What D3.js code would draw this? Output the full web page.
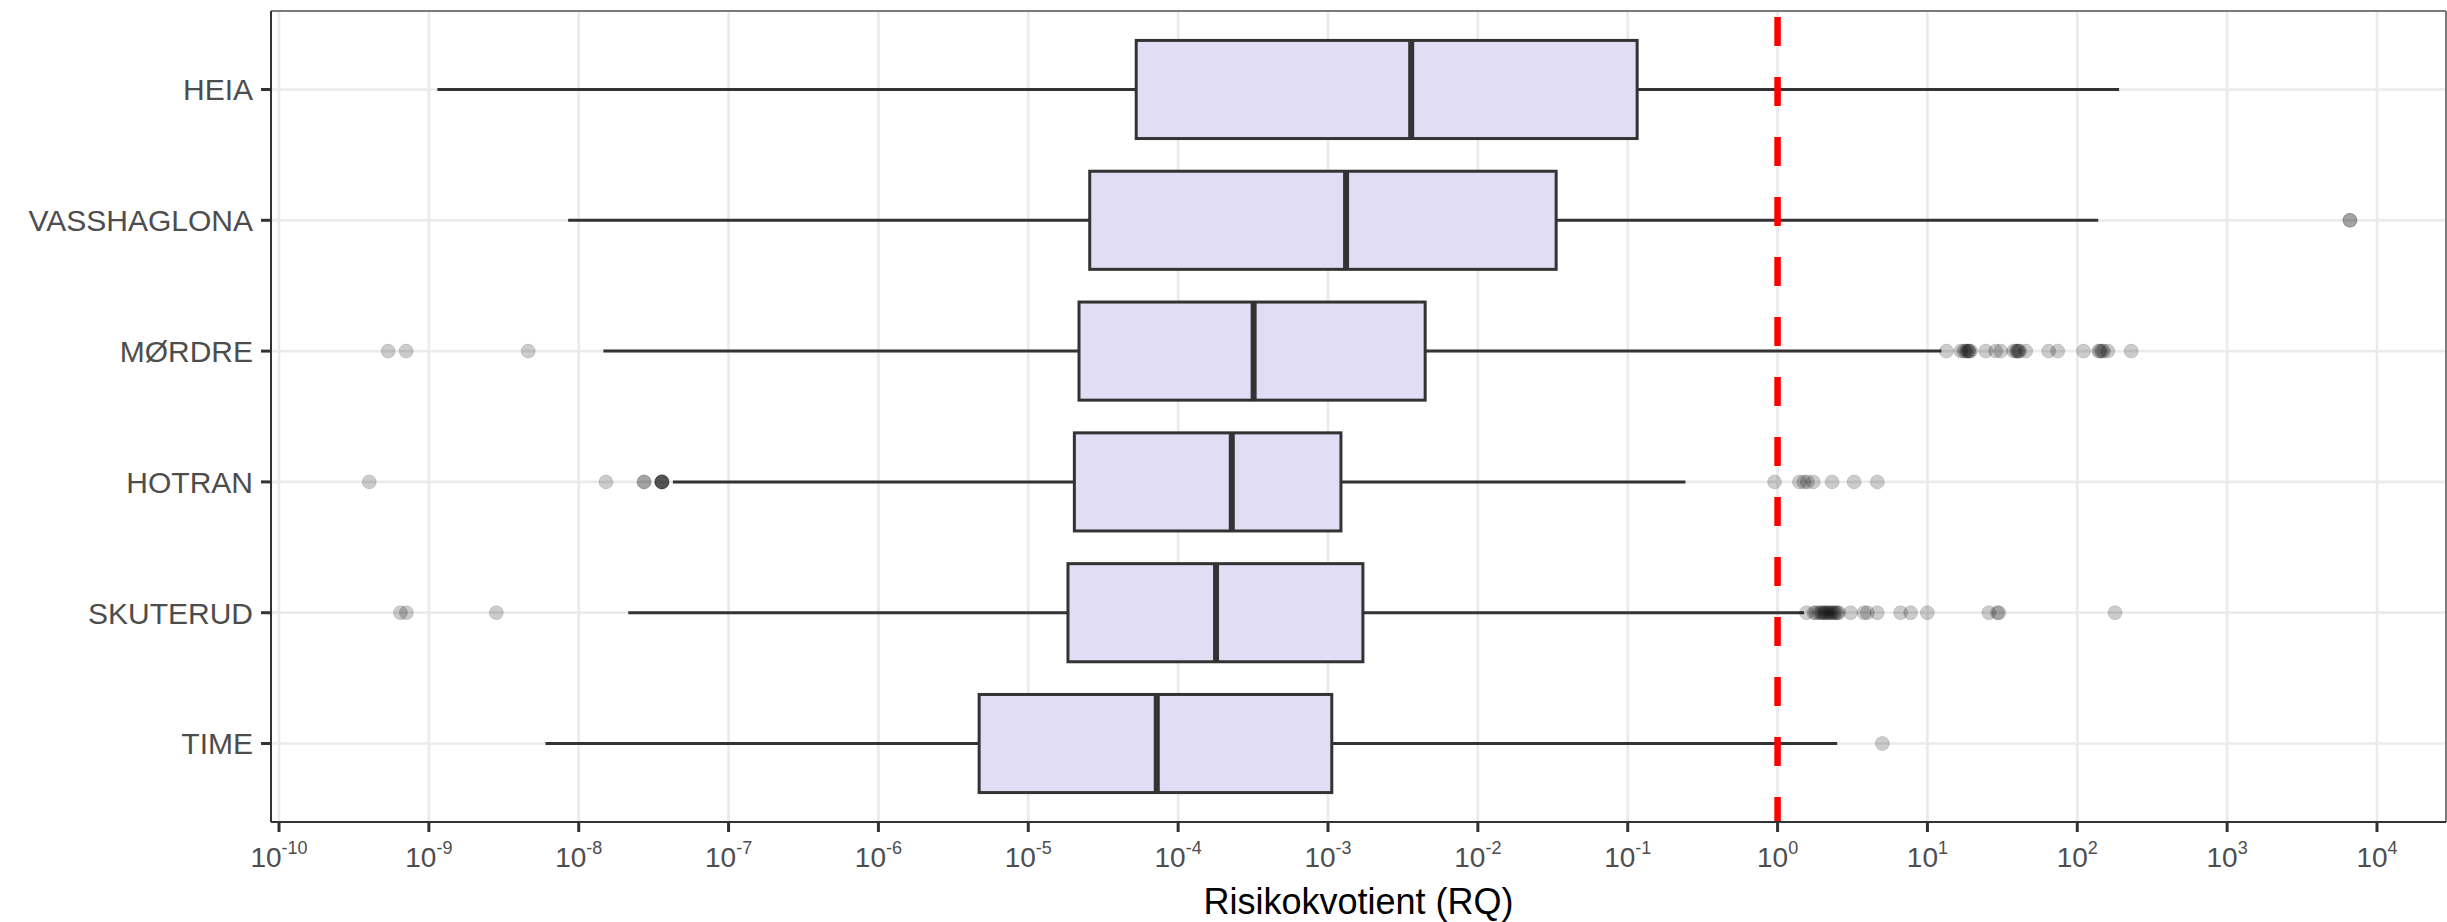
<!DOCTYPE html>
<html>
<head>
<meta charset="utf-8">
<script src="https://cdn.jsdelivr.net/npm/d3@7"></script>
<style>
  html, body { margin: 0; padding: 0; background: #fff; }
  svg { display: block; }
  text { font-family: "Liberation Sans", Arial, Helvetica, sans-serif; }
</style>
</head>
<body>
<svg id="chart" width="2447" height="922"></svg>
<script>
// ---------------- data ----------------
const categories = ["HEIA", "VASSHAGLONA", "MØRDRE", "HOTRAN", "SKUTERUD", "TIME"];
const whiskerLow  = [1.14e-9, 8.5e-9, 1.46e-8, 4.25e-8, 2.14e-8, 6.0e-9];
const q1Values    = [5.25e-5, 2.57e-5, 2.18e-5, 2.03e-5, 1.84e-5, 4.7e-6];
const medians     = [3.59e-3, 1.32e-3, 3.19e-4, 2.28e-4, 1.79e-4, 7.2e-5];
const q3Values    = [0.1156, 0.0333, 4.45e-3, 1.22e-3, 1.71e-3, 1.06e-3];
const whiskerHigh = [190, 138, 12.4, 0.243, 1.5, 2.5];

const outliersHEIA = [];
const outliersVASSHAGLONA = [6600, 6600];
const outliersMORDRE = [5.35e-10, 7.05e-10, 4.6e-9,
  13.4, 16.7, 17.5, 18.0, 18.4, 18.8, 19.0, 19.4, 24.5, 28.5, 30.8, 37.6, 39.0, 40.0, 40.5, 41.2, 45.3,
  64.4, 74.0, 110, 139, 142, 146, 150, 160, 229];
const outliersHOTRAN = [4.0e-10, 1.52e-8, 2.73e-8, 2.73e-8, 3.59e-8, 3.59e-8, 3.59e-8, 3.59e-8, 3.59e-8,
  0.955, 1.40, 1.50, 1.58, 1.73, 2.31, 3.24, 4.63];
const outliersSKUTERUD = [6.46e-10, 7.08e-10, 2.82e-9,
  1.56, 1.75, 1.80, 1.89, 1.95, 1.99, 2.05, 2.09, 2.15, 2.20, 2.25, 2.32, 2.38, 2.44, 2.50, 2.56,
  3.07, 3.77, 3.97, 4.62, 6.62, 7.73, 9.98, 25.7, 29.3, 30.0, 178.6];
const outliersTIME = [5.0];
const outlierLists = [outliersHEIA, outliersVASSHAGLONA, outliersMORDRE, outliersHOTRAN, outliersSKUTERUD, outliersTIME];

const tickExponents = [-10, -9, -8, -7, -6, -5, -4, -3, -2, -1, 0, 1, 2, 3, 4];
const thresholdRQ = 1;
const xTitle = "Risikokvotient (RQ)";

// ---------------- layout ----------------
const panel = { left: 271, right: 2446, top: 11, bottom: 822 };
const svg = d3.select("#chart");

const x = d3.scaleLog().domain([1e-10, 1e4]).range([279, 2377]);
const y = d3.scalePoint().domain(categories).range([panel.top, panel.bottom]).padding(0.6);
const step = y.step();
const boxH = step * 0.75;

const rows = categories.map((c, i) => ({
  cat: c, lo: whiskerLow[i], q1: q1Values[i], med: medians[i], q3: q3Values[i], hi: whiskerHigh[i],
  out: outlierLists[i]
}));

// background
svg.append("rect").attr("x", panel.left).attr("y", panel.top)
  .attr("width", panel.right - panel.left).attr("height", panel.bottom - panel.top)
  .attr("fill", "#ffffff");

// gridlines
const grid = svg.append("g");
grid.selectAll("line.vx").data(tickExponents).enter().append("line")
  .attr("x1", d => x(Math.pow(10, d))).attr("x2", d => x(Math.pow(10, d)))
  .attr("y1", panel.top).attr("y2", panel.bottom)
  .attr("stroke", "#ebebeb").attr("stroke-width", 2.7);
grid.selectAll("line.hy").data(categories).enter().append("line")
  .attr("x1", panel.left).attr("x2", panel.right)
  .attr("y1", d => y(d)).attr("y2", d => y(d))
  .attr("stroke", "#ebebeb").attr("stroke-width", 2.7);

// boxplots
const g = svg.append("g");
const row = g.selectAll("g.row").data(rows).enter().append("g");

row.append("line")
  .attr("x1", d => x(d.lo)).attr("x2", d => x(d.q1))
  .attr("y1", d => y(d.cat)).attr("y2", d => y(d.cat))
  .attr("stroke", "#333333").attr("stroke-width", 3);
row.append("line")
  .attr("x1", d => x(d.q3)).attr("x2", d => x(d.hi))
  .attr("y1", d => y(d.cat)).attr("y2", d => y(d.cat))
  .attr("stroke", "#333333").attr("stroke-width", 3);
row.append("rect")
  .attr("x", d => x(d.q1)).attr("width", d => x(d.q3) - x(d.q1))
  .attr("y", d => y(d.cat) - boxH / 2).attr("height", boxH)
  .attr("fill", "#e0ddf5").attr("stroke", "#333333").attr("stroke-width", 3);
row.append("line")
  .attr("x1", d => x(d.med)).attr("x2", d => x(d.med))
  .attr("y1", d => y(d.cat) - boxH / 2).attr("y2", d => y(d.cat) + boxH / 2)
  .attr("stroke", "#333333").attr("stroke-width", 6);

row.each(function(d) {
  d3.select(this).selectAll("circle").data(d.out).enter().append("circle")
    .attr("cx", v => x(v)).attr("cy", y(d.cat)).attr("r", 7)
    .attr("fill", "#000").attr("fill-opacity", 0.2)
    .attr("stroke", "#000").attr("stroke-opacity", 0.12).attr("stroke-width", 1);
});

// threshold line
svg.append("line")
  .attr("x1", x(thresholdRQ)).attr("x2", x(thresholdRQ))
  .attr("y1", panel.top).attr("y2", panel.bottom)
  .attr("stroke", "#ff0000").attr("stroke-width", 6.5)
  .attr("stroke-dasharray", "29,31").attr("stroke-dashoffset", -6);

// panel border
svg.append("line").attr("x1", panel.left).attr("x2", panel.right).attr("y1", panel.top).attr("y2", panel.top)
  .attr("stroke", "#7a7a7a").attr("stroke-width", 2);
svg.append("line").attr("x1", panel.right).attr("x2", panel.right).attr("y1", panel.top).attr("y2", panel.bottom)
  .attr("stroke", "#7a7a7a").attr("stroke-width", 2);
svg.append("line").attr("x1", panel.left).attr("x2", panel.left).attr("y1", panel.top).attr("y2", panel.bottom)
  .attr("stroke", "#333333").attr("stroke-width", 2);
svg.append("line").attr("x1", panel.left).attr("x2", panel.right).attr("y1", panel.bottom).attr("y2", panel.bottom)
  .attr("stroke", "#333333").attr("stroke-width", 2);

// y axis (ticks + labels)
const yAxis = svg.append("g");
yAxis.selectAll("line").data(categories).enter().append("line")
  .attr("x1", panel.left - 10).attr("x2", panel.left)
  .attr("y1", d => y(d)).attr("y2", d => y(d))
  .attr("stroke", "#333333").attr("stroke-width", 3);
yAxis.selectAll("text").data(categories).enter().append("text")
  .attr("x", panel.left - 18).attr("y", d => y(d))
  .attr("dy", "0.36em").attr("text-anchor", "end")
  .attr("font-size", 30).attr("fill", "#4d4d4d")
  .text(d => d);

// x axis (ticks + labels)
const xAxis = svg.append("g");
xAxis.selectAll("line").data(tickExponents).enter().append("line")
  .attr("x1", d => x(Math.pow(10, d))).attr("x2", d => x(Math.pow(10, d)))
  .attr("y1", panel.bottom).attr("y2", panel.bottom + 10)
  .attr("stroke", "#333333").attr("stroke-width", 3);
const lbl = xAxis.selectAll("text").data(tickExponents).enter().append("text")
  .attr("x", d => x(Math.pow(10, d))).attr("y", 867)
  .attr("text-anchor", "middle").attr("fill", "#4d4d4d").attr("font-size", 28);
lbl.append("tspan").text("10");
lbl.append("tspan").attr("font-size", 18).attr("dy", -13).text(d => String(d));

// x title
svg.append("text")
  .attr("x", (panel.left + panel.right) / 2).attr("y", 914)
  .attr("text-anchor", "middle").attr("font-size", 36).attr("fill", "#000")
  .text(xTitle);
</script>
</body>
</html>
